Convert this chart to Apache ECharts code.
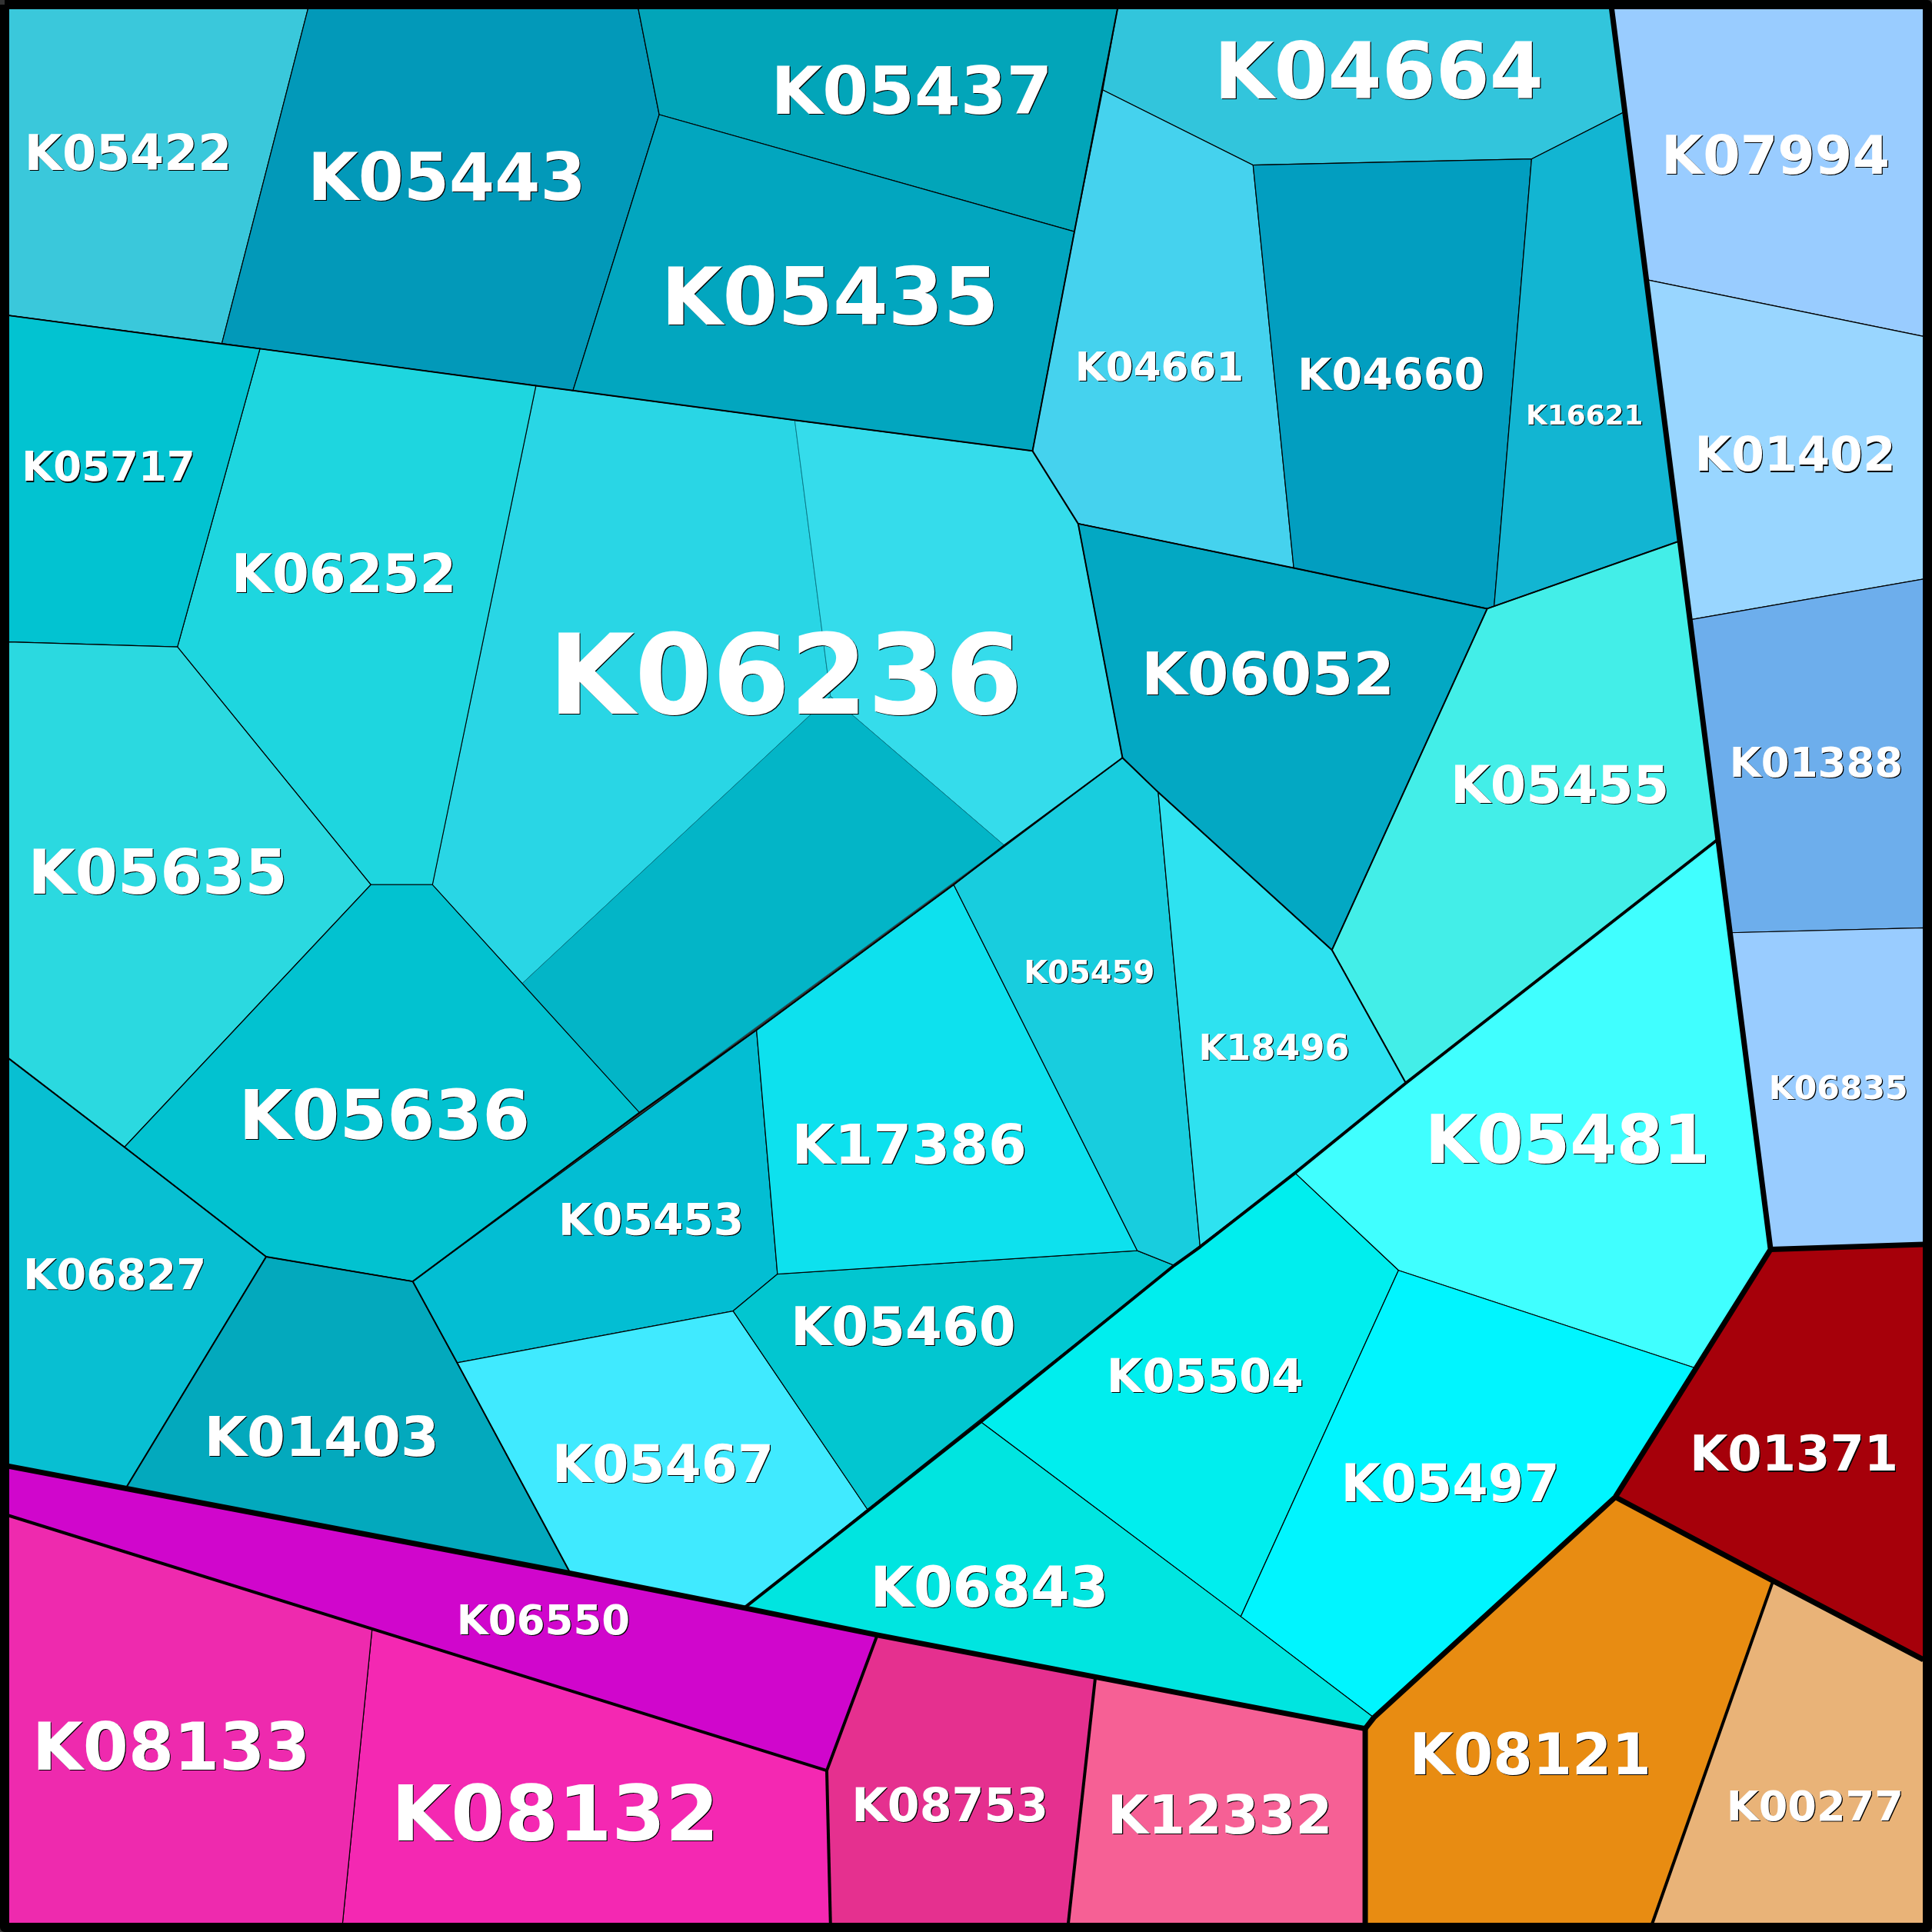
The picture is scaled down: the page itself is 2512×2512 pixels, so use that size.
<!DOCTYPE html>
<html>
<head>
<meta charset="utf-8">
<title>Voronoi treemap</title>
<script src="https://cdn.jsdelivr.net/npm/echarts@6/dist/echarts.min.js"></script>
<style>
html,body{margin:0;padding:0;background:#333;}
#main{width:2512px;height:2512px;}
</style>
</head>
<body>
<div id="main"></div>
<script>
// cell outlines, in axis units
var outlines = [
  [[435,313],[645,341],[674,565],[424,798],[351,718]],
  [[645,341],[838,366],[875,425],[911,615],[815,686],[674,565]],
  [[674,565],[815,686],[519,903],[424,798]],
  [[7,7],[250,7],[180,279],[7,256]],
  [[250,7],[518,7],[535,93],[465,317],[180,279]],
  [[518,7],[907,7],[872,188],[535,93]],
  [[535,93],[872,188],[838,366],[645,341],[465,317]],
  [[907,7],[1308,7],[1318,91],[1243,129],[1017,134],[895,73]],
  [[895,73],[1017,134],[1050,461],[875,425],[838,366],[872,188]],
  [[1017,134],[1243,129],[1212.6,492],[1207,494],[1050,461]],
  [[1243,129],[1318,91],[1363.5,439],[1212.6,492]],
  [[875,425],[1050,461],[1207,494],[1081,771],[940,643],[911,615]],
  [[1207,494],[1363.5,439],[1394.5,681],[1141,879],[1081,771]],
  [[211,283],[435,313],[351,718],[301,718],[144,525]],
  [[7,256],[211,283],[144,525],[7,521]],
  [[7,521],[144,525],[301,718],[101,931],[7,859]],
  [[301,718],[351,718],[519,903],[335,1040],[216,1020],[101,931]],
  [[7,859],[101,931],[216,1020],[102,1208],[7,1190]],
  [[216,1020],[335,1040],[371,1106],[463,1277],[102,1208]],
  [[335,1040],[614,836],[631,1034],[595,1064],[371,1106]],
  [[371,1106],[595,1064],[704,1225],[604,1305],[463,1277]],
  [[595,1064],[631,1034],[923,1015],[953,1027],[704,1225]],
  [[614,836],[774,718],[923,1015],[631,1034]],
  [[774,718],[911,615],[940,643],[974,1012],[953,1027],[923,1015]],
  [[940,643],[1081,771],[1141,879],[1051,952],[974,1012]],
  [[1141,879],[1394.5,681],[1437,1014],[1375,1110],[1135,1031],[1051,952]],
  [[1051,952],[1135,1031],[1007,1312],[796,1154],[953,1027]],
  [[1135,1031],[1375,1110],[1311,1215],[1115,1394],[1007,1312]],
  [[796,1154],[1007,1312],[1115,1394],[1108,1403],[889,1361],[712,1327],[604,1305]],
  [[1308,7],[1561,7],[1561,273],[1336.2,227]],
  [[1336.2,227],[1561,273],[1561,470],[1371.5,503]],
  [[1371.5,503],[1561,470],[1561,753],[1404,757]],
  [[1404,757],[1561,753],[1561,1010],[1437,1014]],
  [[1437,1014],[1561,1010],[1561,1347],[1439,1283],[1311,1215]],
  [[1439,1283],[1561,1347],[1561,1561],[1341,1561]],
  [[1311,1215],[1439,1283],[1341,1561],[1108,1561],[1108,1403],[1115,1394]],
  [[889,1361],[1108,1403],[1108,1561],[867,1561]],
  [[712,1327],[889,1361],[867,1561],[674,1561],[671,1437]],
  [[7,1190],[604,1305],[712,1327],[671,1437],[7,1230]],
  [[302,1322],[671,1437],[674,1561],[278,1561]],
  [[7,1230],[302,1322],[278,1561],[7,1561]]
];

// borders between groups, heaviest first
var frameEdge = [[[3.75,3.75],[1564.25,3.75],[1564.25,1564.25],[3.75,1564.25],[3.75,3.75]]];
var groupEdges = [
  [[1308,7],[1437,1014],[1311,1215],[1115,1394],[1108,1403],[889,1361],[712,1327],[604,1305],[463,1277],[102,1208],[7,1190]],
  [[1108,1403],[1108,1561]],
  [[1437,1014],[1561,1010]],
  [[1311,1215],[1439,1283],[1561,1347]]
];
var familyEdges = [
  [[604,1305],[796,1154],[953,1027],[974,1012],[1051,952],[1141,879],[1394.5,681]],
  [[7,1230],[302,1322],[671,1437],[712,1327]],
  [[671,1437],[674,1561]],
  [[889,1361],[867,1561]],
  [[1439,1283],[1341,1561]]
];
var subEdges = [
  [[335,1040],[519,903],[614,836],[774,718],[815,686],[911,615],[940,643],[1081,771],[1207,494]],
  [[838,366],[875,425],[911,615]],
  [[875,425],[1050,461],[1207,494],[1363.5,439]],
  [[7,859],[101,931],[216,1020],[102,1208]],
  [[216,1020],[335,1040],[371,1106],[463,1277]],
  [[7,256],[180,279],[211,283],[435,313],[465,317],[645,341],[838,366],[872,188],[907,7]],
  [[1081,771],[1141,879]]
];

// cell labels; the K06236 block has three cells and one label
var labels = [
  'K06236','','',
  'K05422','K05443','K05437','K05435','K04664','K04661','K04660','K16621',
  'K06052','K05455','K06252','K05717','K05635','K05636','K06827','K01403',
  'K05453','K05467','K05460','K17386','K05459','K18496','K05481','K05504',
  'K05497','K06843','K07994','K01402','K01388','K06835','K01371','K00277',
  'K08121','K12332','K08753','K06550','K08132','K08133'
];

var fills = [
  '#29d6e5','#35dceb','#03b5c7',
  '#3ac8db','#0299b9','#02a5b9','#02a6bf','#32c5dc','#45d2ee','#029ec0','#12b5d2',
  '#03a8c3','#43eee8','#1ed6df','#02c3d1','#2bd9e0','#02c2d0','#08bfd2','#03a9bd',
  '#03bed3','#40eaff','#02c6d0','#0de1ee','#18cdde','#2ee2f0','#40ffff','#00eeee',
  '#00f5ff','#00e5e0','#99ccff','#99d6ff','#6daeec','#99ccff','#a6000a','#e9b378',
  '#e88c12','#f66095','#e5308f','#d006cc','#f428b2','#ee2aae'
];

var labelSpots = [
  [637.5,548],null,null,
  [104,124],[362.5,144],[740,74],[673.5,241],[1119,58],[941,298],[1129,304],[1286,337],
  [1029,547],[1266,637],[279,466],[88,379],[128,708],[312,905],[93,1034],[261,1166],
  [528.5,990],[538,1188],[733,1077],[738,929],[884,789],[1034,850],[1272,925],[978,1117],
  [1177,1204],[803,1288],[1441,126],[1457,369],[1474,619],[1492,883],[1456,1180],[1473,1466],
  [1242,1424],[990,1473],[771,1465],[441,1315],[450.5,1472],[139,1418]
];
var labelSizes = [
  145,0,0,
  63.4,85,86,103.2,100.7,51.6,57.2,35.9,
  77.4,66.8,68.8,53,79.3,89,56,71.8,
  56.7,67.8,68.8,71.8,40,46.1,87,60.2,
  66.8,72.9,69.8,61.4,53,42.5,63.8,54.1,
  73.9,68.8,60.2,53,100.2,85
];

var chart = echarts.init(document.getElementById('main'));

function indexData(arr) {
  return arr.map(function (d, i) { return [i]; });
}

function toPixels(api, pts) {
  return pts.map(function (p) { return api.coord(p); });
}

function edgeSeries(edges, width) {
  return {
    type: 'custom',
    coordinateSystem: 'cartesian2d',
    silent: true,
    clip: false,
    data: indexData(edges),
    renderItem: function (params, api) {
      return {
        type: 'polyline',
        shape: { points: toPixels(api, edges[api.value(0)]) },
        style: { stroke: '#000', lineWidth: width, fill: null, lineJoin: 'round', lineCap: 'butt' }
      };
    }
  };
}

function labelText(text, x, y, size, color) {
  return {
    type: 'text',
    x: x,
    y: y,
    style: {
      text: text,
      fill: color,
      font: 'bold ' + size + 'px "DejaVu Sans"',
      textAlign: 'center',
      textVerticalAlign: 'middle'
    }
  };
}

var option = {
  animation: false,
  backgroundColor: '#333',
  grid: { left: 0, right: 0, top: 0, bottom: 0 },
  xAxis: { type: 'value', min: 0, max: 1568, show: false },
  yAxis: { type: 'value', min: 0, max: 1568, inverse: true, show: false },
  series: [
    {
      type: 'custom',
      coordinateSystem: 'cartesian2d',
      silent: true,
      clip: false,
      data: indexData(outlines),
      renderItem: function (params, api) {
        var i = api.value(0);
        var inner = i < 3;
        return {
          type: 'polygon',
          shape: { points: toPixels(api, outlines[i]) },
          style: {
            fill: fills[i],
            stroke: inner ? '#06707f' : '#000',
            lineWidth: inner ? 0.8 : 1.2
          }
        };
      }
    },
    edgeSeries(subEdges, 2),
    edgeSeries(familyEdges, 4),
    edgeSeries(groupEdges, 7),
    edgeSeries(frameEdge, 12),
    {
      type: 'custom',
      coordinateSystem: 'cartesian2d',
      silent: true,
      clip: false,
      data: indexData(labels),
      renderItem: function (params, api) {
        var i = api.value(0);
        if (!labels[i]) { return null; }
        var p = api.coord(labelSpots[i]);
        var size = labelSizes[i];
        // the spot is the middle of the capitals, not of the em box
        var y = p[1] + size * 0.085;
        return {
          type: 'group',
          children: [
            labelText(labels[i], p[0] + 1.2, y + 1.2, size, '#000'),
            labelText(labels[i], p[0], y, size, '#fff')
          ]
        };
      }
    }
  ]
};

chart.setOption(option);
</script>
</body>
</html>
